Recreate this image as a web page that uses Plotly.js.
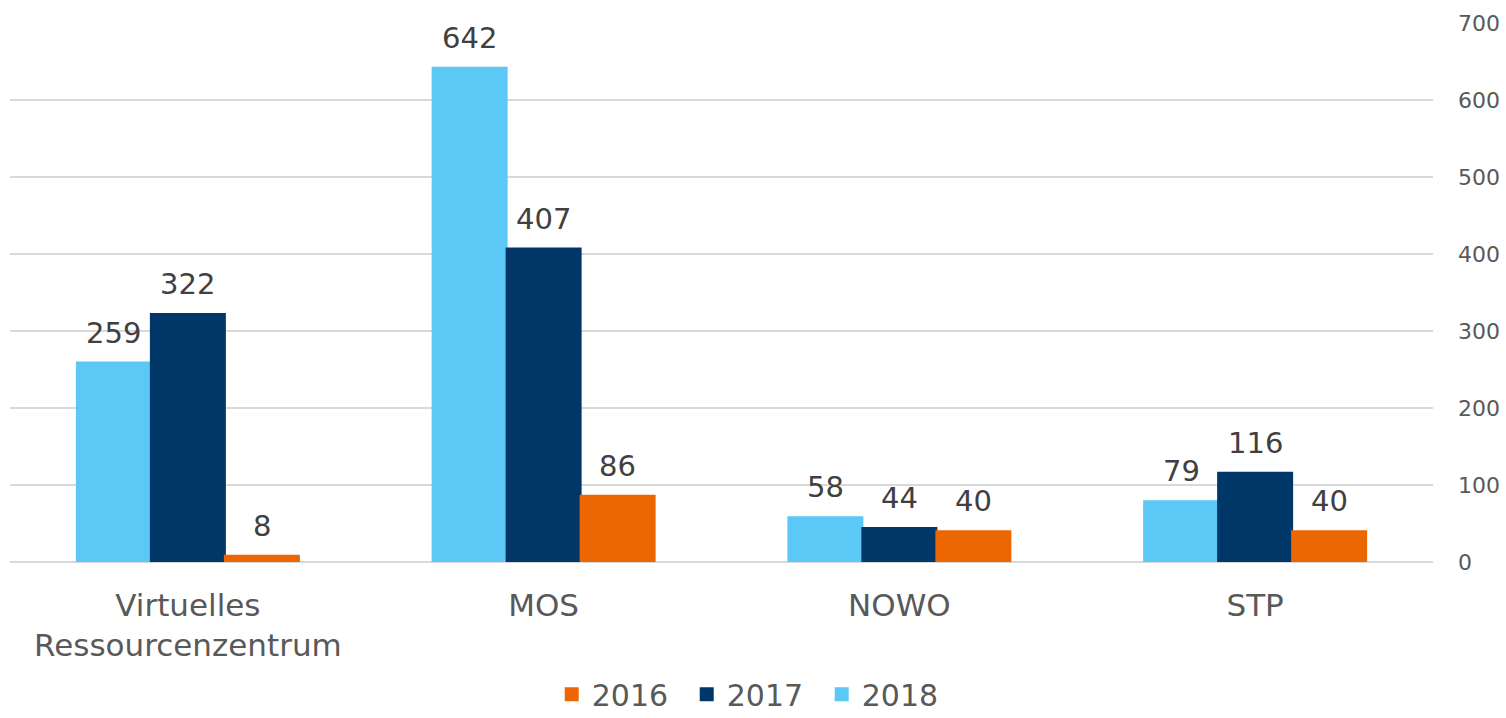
<!DOCTYPE html>
<html>
<head>
<meta charset="utf-8">
<script src="https://cdn.plot.ly/plotly-3.0.1.min.js"></script>
<style>html,body{margin:0;padding:0;background:#fff;}#chart{width:1506px;height:718px;}</style>
</head>
<body>
<div id="chart"></div>
<script>
const categories = ["Virtuelles<br>Ressourcenzentrum", "MOS", "NOWO", "STP"];
const seriesNames = ["2018", "2017", "2016"];
const values2018 = [259, 642, 58, 79];
const values2017 = [322, 407, 44, 116];
const values2016 = [8, 86, 40, 40];
const yTicks = [0, 100, 200, 300, 400, 500, 600, 700];

const font = "DejaVu Sans, Verdana, sans-serif";
const colors = ["#5BC8F5", "#003768", "#EC6602"];
const allValues = [values2018, values2017, values2016];

const W = 1506, H = 718;
const margin = {l: 10, r: 73, t: 23, b: 156, autoexpand: false};
const bargap = 0.376;
const plotW = W - margin.l - margin.r;
const catW = plotW / categories.length;
const barW = catW * (1 - bargap) / allValues.length;

const data = allValues.map((vals, i) => ({
  type: "bar", name: seriesNames[i], x: categories, y: vals,
  marker: {color: colors[i], line: {color: colors[i], width: 2}},
  hoverinfo: "x+y"
}));

const annotations = [];
allValues.forEach((vals, i) => {
  vals.forEach((v, j) => {
    annotations.push({
      x: categories[j], y: v, xref: "x", yref: "y",
      text: String(v), showarrow: false,
      xshift: (i - 1) * barW, yshift: 11, yanchor: "bottom",
      font: {family: font, size: 29, color: "#404040"}
    });
  });
});

const layout = {
  width: W, height: H, margin: margin,
  paper_bgcolor: "#fff", plot_bgcolor: "#fff",
  barmode: "group", bargap: bargap, bargroupgap: 0,
  font: {family: font, color: "#595959"},
  annotations: annotations,
  xaxis: {
    tickfont: {family: font, size: 31, color: "#595959"},
    showgrid: false, ticks: "", showline: false, automargin: false,
    ticklabelstandoff: 22
  },
  yaxis: {
    side: "right", range: [0, 700], tickvals: yTicks, automargin: false,
    tickfont: {family: font, size: 22, color: "#595959"},
    gridcolor: "#d9d9d9", gridwidth: 1.5, zeroline: true, zerolinecolor: "#d9d9d9", zerolinewidth: 1.5,
    showline: false, ticks: "", ticklabelstandoff: 24
  },
  legend: {
    orientation: "h", x: 0.523, xanchor: "center", y: -0.197, yanchor: "top",
    traceorder: "reversed", font: {family: font, size: 30, color: "#595959"},
    entrywidth: 90
  },
  showlegend: true
};
Plotly.newPlot("chart", data, layout, {displayModeBar: false});
</script>
</body>
</html>
